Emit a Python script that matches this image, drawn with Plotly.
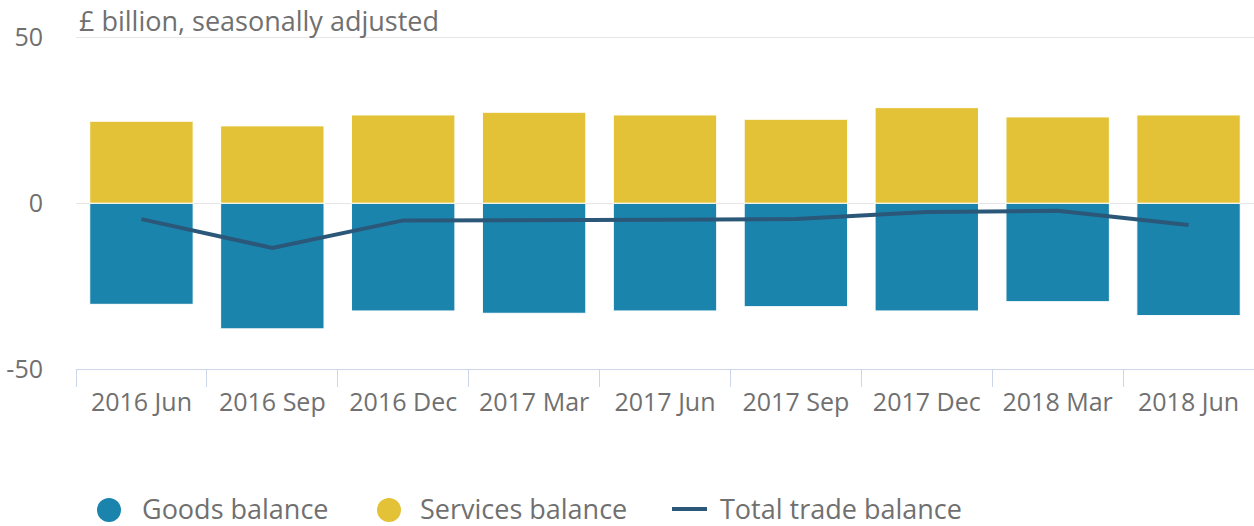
import plotly.graph_objects as go

categories = ["2016 Jun", "2016 Sep", "2016 Dec", "2017 Mar", "2017 Jun",
              "2017 Sep", "2017 Dec", "2018 Mar", "2018 Jun"]
goods = [-30.5, -37.9, -32.5, -33.2, -32.5, -31.2, -32.5, -29.7, -33.9]
services = [24.7, 23.3, 26.6, 27.4, 26.6, 25.3, 28.8, 26.0, 26.6]
total = [-4.8, -13.5, -5.2, -5.2, -5.0, -4.8, -2.7, -2.3, -6.6]
y_ticks = [-50, 0, 50]

GOODS_C = "#1b84ad"
SERV_C = "#e3c237"
LINE_C = "#2b5779"
TEXT_C = "#707070"
FONT = "Open Sans"

W, H = 1254, 526
ML, MR, MT, MB = 76, 0, 36, 157
PW, PH = W - ML - MR, H - MT - MB


def px_x(px):
    return (px - ML) / PW


def px_y(py):
    return (H - MB - py) / PH


fig = go.Figure()
fig.add_trace(go.Bar(x=categories, y=goods, name="Goods balance",
                     marker=dict(color=GOODS_C, line=dict(color="#ffffff", width=1)),
                     showlegend=False))
fig.add_trace(go.Bar(x=categories, y=services, name="Services balance",
                     marker=dict(color=SERV_C, line=dict(color="#ffffff", width=1)),
                     showlegend=False))
fig.add_trace(go.Scatter(x=categories, y=total, name="Total trade balance",
                         mode="lines", line=dict(color=LINE_C, width=4),
                         showlegend=False))

# legend (drawn by hand for large circular symbols)
LEG_Y = px_y(508)
legend_items = [("Goods balance", GOODS_C, "circle", 109, 140),
                ("Services balance", SERV_C, "circle", 389, 418),
                ("Total trade balance", LINE_C, "line", 690, 718)]
shapes = []
annotations = [dict(text="£ billion, seasonally adjusted", xref="paper", yref="paper",
                    x=0, y=1, xanchor="left", yanchor="middle", yshift=16, xshift=1,
                    showarrow=False, font=dict(size=27, color=TEXT_C))]
for label, color, kind, cx, tx in legend_items:
    if kind == "circle":
        shapes.append(dict(type="circle", xref="paper", yref="paper",
                           xsizemode="pixel", ysizemode="pixel",
                           xanchor=px_x(cx), yanchor=px_y(510),
                           x0=-12, x1=12, y0=-12, y1=12,
                           fillcolor=color, line=dict(width=0)))
    else:
        shapes.append(dict(type="line", xref="paper", yref="paper",
                           x0=px_x(cx - 18), x1=px_x(cx + 17), y0=px_y(509), y1=px_y(509),
                           line=dict(color=color, width=4)))
    annotations.append(dict(text=label, xref="paper", yref="paper",
                            x=px_x(tx), y=LEG_Y, xanchor="left", yanchor="middle",
                            showarrow=False, font=dict(size=27, color=TEXT_C)))

fig.update_layout(
    width=W, height=H,
    barmode="relative", bargap=0.21,
    showlegend=False,
    plot_bgcolor="#ffffff", paper_bgcolor="#ffffff",
    margin=dict(l=ML, r=MR, t=MT, b=MB, autoexpand=False),
    font=dict(family=FONT, color=TEXT_C, size=25),
    xaxis=dict(
        type="category", tickson="boundaries", ticks="outside", ticklen=17,
        tickcolor="#ccd6eb", tickwidth=1, showline=True, linecolor="#ccd6eb",
        linewidth=1, showgrid=False, tickfont=dict(size=25, color=TEXT_C),
        ticklabelstandoff=11, automargin=False,
    ),
    yaxis=dict(
        range=[-50, 50.4], tickvals=y_ticks, ticktext=[str(v) for v in y_ticks],
        showgrid=True, gridcolor="#e6e6e6", gridwidth=1, zeroline=True,
        zerolinecolor="#e6e6e6", zerolinewidth=1, showline=False,
        tickfont=dict(size=25, color=TEXT_C), ticks="", ticklabelstandoff=32,
        automargin=False,
    ),
    shapes=shapes,
    annotations=annotations,
)

fig.write_html("out.html", config={"displayModeBar": False},
               post_script="document.body.style.margin='0';document.body.style.overflow='hidden';")
